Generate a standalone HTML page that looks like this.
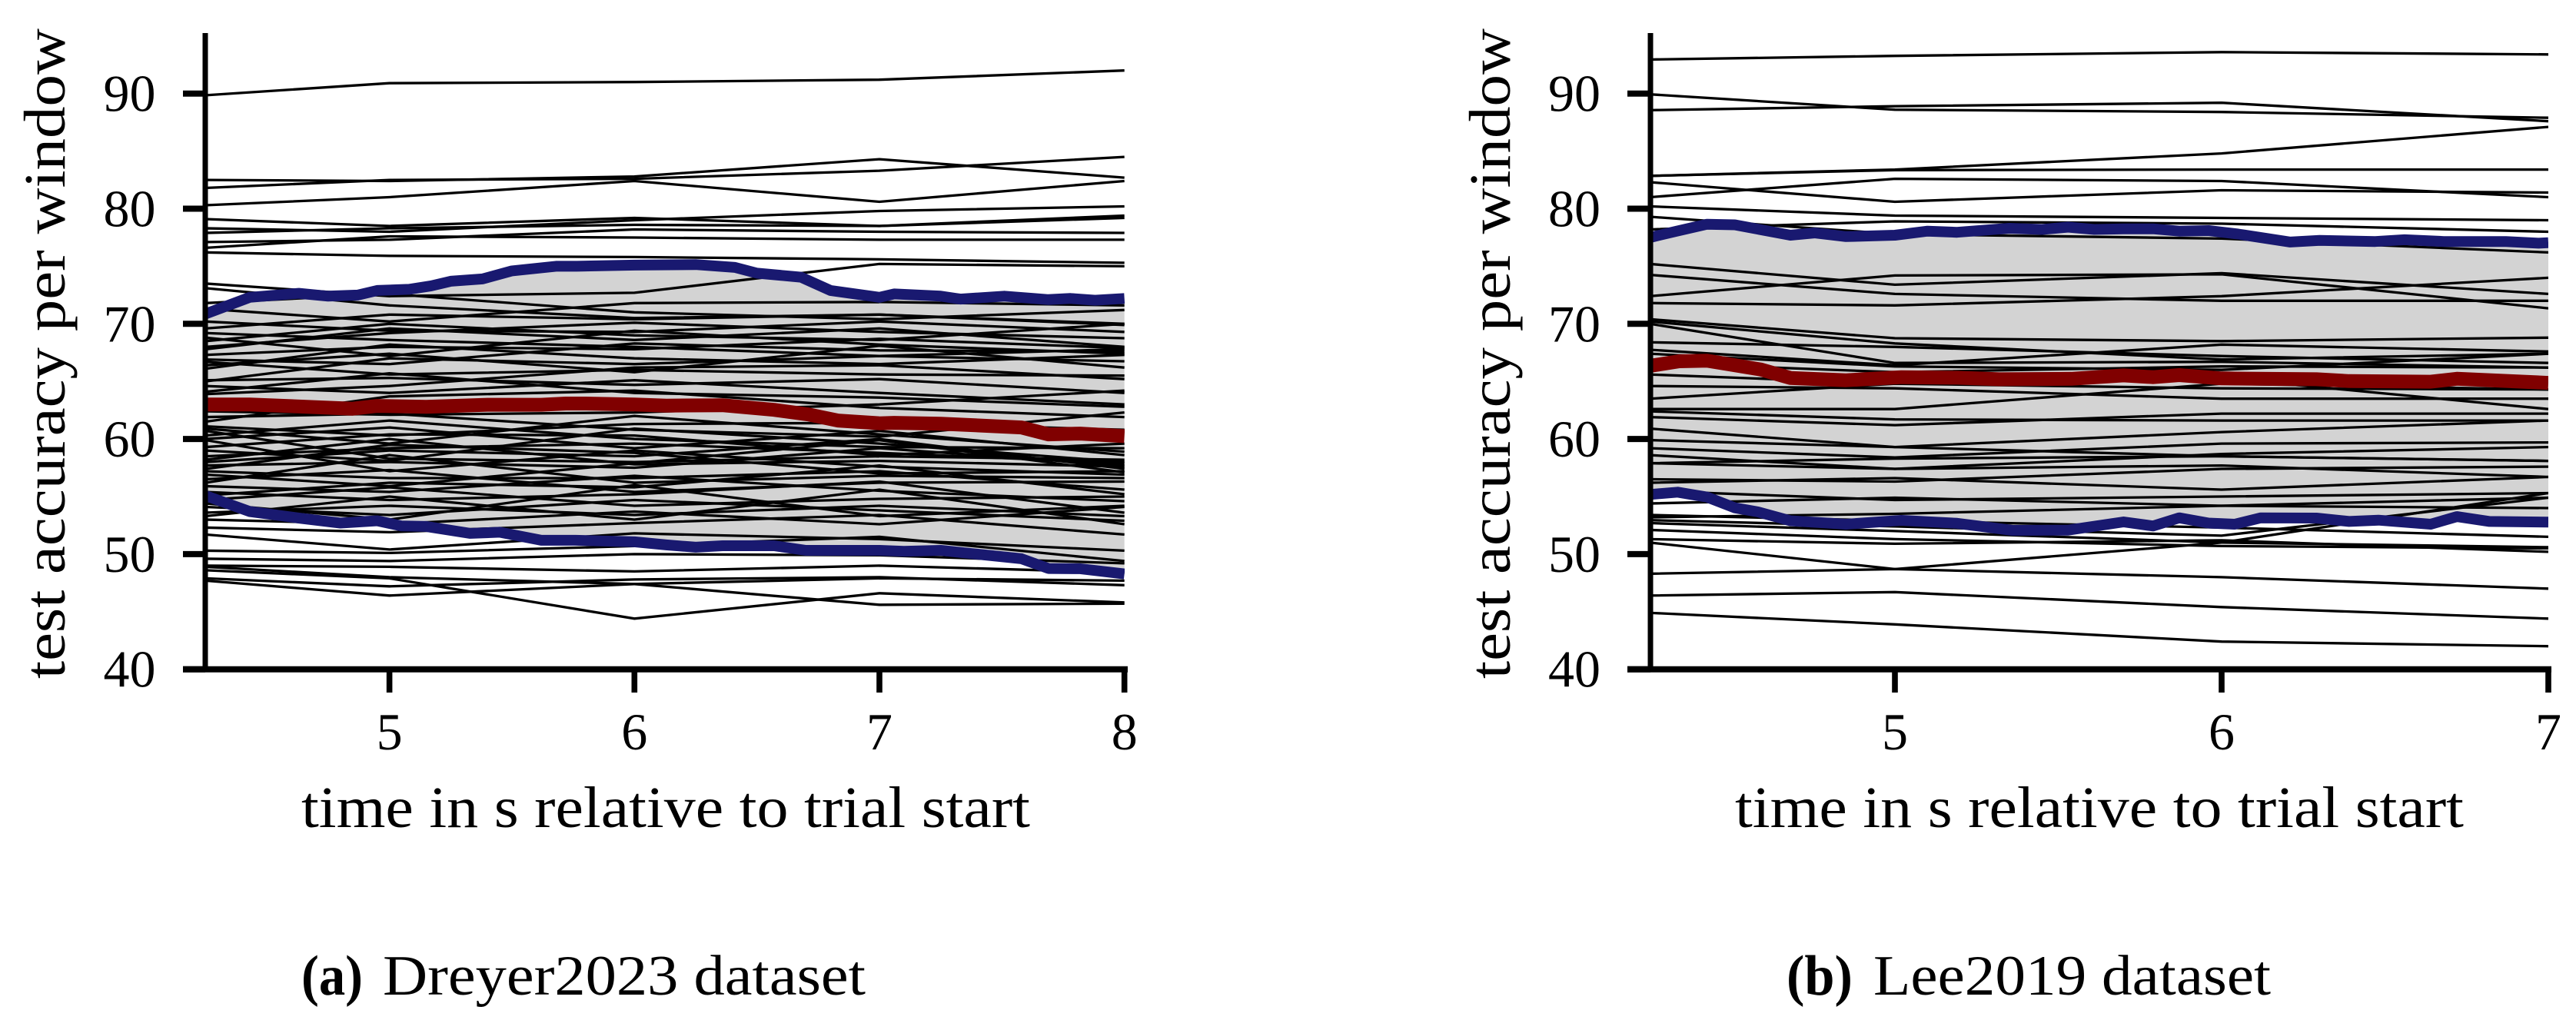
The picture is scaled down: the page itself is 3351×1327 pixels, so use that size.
<!DOCTYPE html>
<html lang="en">
<head>
<meta charset="utf-8">
<title>Test accuracy per window</title>
<style>
html,body{margin:0;padding:0;background:#fff;}
body{width:3351px;height:1327px;overflow:hidden;}
svg{display:block;}
text{font-family:"Liberation Serif",serif;fill:#000;}
</style>
</head>
<body>
<svg id="figure" xmlns="http://www.w3.org/2000/svg" width="3351" height="1327" viewBox="0 0 3351 1327">
  <rect width="3351" height="1327" fill="#fff"/>
  <defs>
    <clipPath id="clip-a"><rect x="270" y="0" width="1193" height="867"/></clipPath>
    <clipPath id="clip-b"><rect x="2150" y="0" width="1165" height="867"/></clipPath>
  </defs>
  <g id="chart-a"></g>
  <g id="chart-b"></g>

  <text transform="translate(84,883) rotate(-90)" font-size="76" textLength="846" lengthAdjust="spacingAndGlyphs">test accuracy per window</text>
  <text x="392" y="1076" font-size="76" textLength="948" lengthAdjust="spacingAndGlyphs">time in s relative to trial start</text>
  <text x="392" y="1294" font-size="74" font-weight="bold" textLength="80" lengthAdjust="spacingAndGlyphs">(a)</text>
  <text x="498" y="1294" font-size="74" textLength="628" lengthAdjust="spacingAndGlyphs">Dreyer2023 dataset</text>

  <text transform="translate(1964,883) rotate(-90)" font-size="76" textLength="846" lengthAdjust="spacingAndGlyphs">test accuracy per window</text>
  <text x="2257" y="1076" font-size="76" textLength="948" lengthAdjust="spacingAndGlyphs">time in s relative to trial start</text>
  <text x="2324" y="1294" font-size="74" font-weight="bold" textLength="86" lengthAdjust="spacingAndGlyphs">(b)</text>
  <text x="2437" y="1294" font-size="74" textLength="517" lengthAdjust="spacingAndGlyphs">Lee2019 dataset</text>
</svg>
<script>
var yTickValues = [40, 50, 60, 70, 80, 90];
var xTickValuesA = [5, 6, 7, 8];
var xTickValuesB = [5, 6, 7];

var subjectTimesA = [4.25, 5, 6, 7, 8];
var subjectsA = [
  [89.85,90.9,91,91.2,92],
  [82.5,82.4,82.8,84.3,82.7],
  [81.8,82.5,82.6,83.3,84.5],
  [80.3,81,82.4,80.6,82.4],
  [79.1,78.5,79.2,78.5,79.4],
  [78.3,78,79,79.8,80.2],
  [77.9,78.3,78.6,78.5,79.2],
  [77.1,77.3,78.2,78,77.9],
  [76.6,77.6,77.5,77.3,77.3],
  [76.2,75.9,75.8,75.6,75.3],
  [73.5,72.4,72.7,75.2,75],
  [73.1,71.6,70.5,70.8,69.9],
  [71.8,72.6,71,70.4,71.2],
  [71.3,70.2,71.8,71.9,71.6],
  [69.6,70.8,70.4,70.8,70],
  [70.2,69.4,69.3,70.2,69.3],
  [68.5,70,69,68.6,70],
  [68,69.2,70.1,69.3,68.75],
  [67.3,68,67.8,68.7,67.9],
  [66.9,66.5,68.3,67.7,67.6],
  [66.1,68.2,67,66.5,67.3],
  [65,67,66.5,67.2,66.75],
  [66.7,65.6,66,65.6,65.5],
  [65.1,65.3,64.7,65.2,64],
  [64.6,64,65.1,64,63],
  [64.1,65.7,64,63.6,62.8],
  [62.4,62.1,62.3,63,64.2],
  [61.9,62.2,60.8,60.2,62.3],
  [61.1,60.3,61.3,61.4,60.8],
  [60.3,61.6,60,59.3,59.2],
  [59.3,60.4,60.3,58.6,59.6],
  [58.5,59.2,59.6,58.8,57.9],
  [58,59,58.5,60,57.4],
  [60.7,58.3,58,58.5,58.2],
  [59.9,57.2,59,57.6,56.9],
  [57.7,58,57.5,59.2,57.7],
  [57.2,56.6,56.6,57.2,55.6],
  [56.5,57.3,55.4,56.2,56.3],
  [55.9,55.4,56.8,55.5,54.6],
  [55.4,54.7,55.2,56.3,53.6],
  [54.7,55.8,54.2,54.8,55],
  [54.1,53.4,54.7,53.8,52.9],
  [53.6,54.2,53.4,54.2,53.3],
  [53,52.6,53.7,52.6,54.1],
  [52.3,51.9,52.7,53.4,51.7],
  [51.7,50.4,51.8,51.3,50.3],
  [50.3,50.1,50.7,51.5,49.4],
  [49.6,49.4,50,49.9,49.2],
  [49,48.9,48.5,49,48.4],
  [47.9,47.2,47.8,48,47.3],
  [47.7,46.4,47.4,47.9,47.7],
  [48.6,47.9,44.4,46.6,45.8],
  [48.9,48,47.4,45.6,45.7],
  [69.2,68.6,68,67.2,67.8],
  [68.8,67.2,69.4,68.2,67.4],
  [67.8,69.6,68.6,69.6,68],
  [66.4,67.4,65.8,68.1,66.2],
  [63.9,64.6,66.2,66.4,65.2],
  [61.5,63.7,64.2,62.7,61.9],
  [60.9,59.6,62,60.4,58.9],
  [60,61,59.2,60.7,58.6],
  [59,58.1,60.9,59.6,58],
  [58.2,60,57.8,58.1,57.6],
  [57.4,59.5,58.8,57,57.2],
  [56.9,55.9,57.9,59.9,57.1],
  [56.2,58.6,56.2,56.8,56.6],
  [55.1,56.2,55.8,57.7,55.2],
  [54.4,53,56,53.3,54.2],
  [53.3,55,53,55.6,52.6]
];

var upperTimesA = [4.25,4.43,4.63,4.75,4.87,4.95,5.08,5.17,5.25,5.38,5.5,5.68,5.765,6,6.25,6.41,6.5,6.68,6.8,7,7.06,7.25,7.33,7.51,7.69,7.78,7.88,8];
var upperValuesA = [70.87,72.3,72.65,72.4,72.5,72.9,73,73.3,73.7,73.9,74.6,75,75,75.1,75.15,74.9,74.4,74.05,72.9,72.3,72.6,72.4,72.15,72.4,72.1,72.2,72.05,72.2];
var lowerTimesA = [4.25,4.43,4.63,4.8,4.95,5.05,5.15,5.33,5.45,5.62,5.76,6,6.13,6.25,6.36,6.57,6.7,7,7.1,7.25,7.58,7.69,7.82,8];
var lowerValuesA = [55.07,53.7,53.13,52.7,52.9,52.44,52.4,51.8,51.9,51.2,51.2,51.07,50.8,50.6,50.73,50.73,50.33,50.33,50.25,50.33,49.6,48.75,48.73,48.28];
var meanTimesA = [4.25,4.43,4.85,4.95,5.15,5.4,5.62,5.72,5.8,6,6.13,6.36,6.57,6.71,6.83,7,7.06,7.25,7.58,7.69,7.82,8];
var meanValuesA = [62.99,63,62.63,62.87,62.8,62.97,62.97,63.08,63.08,63,62.9,62.93,62.53,62.13,61.6,61.36,61.4,61.33,61,60.4,60.47,60.25];

var subjectTimesB = [4.25, 5, 6, 7];
var subjectsB = [
  [92.96,93.27,93.6,93.4],
  [89.93,88.6,88.4,87.9],
  [88.56,88.9,89.2,87.6],
  [82.85,83.4,84.8,87.1],
  [82.85,83.35,83.4,83.4],
  [82.3,80.6,81.6,81.4],
  [81,82.6,82.4,81],
  [80.2,79.4,79.2,79],
  [79.3,77.8,77.4,76.2],
  [78.2,78.9,78.7,78],
  [75.2,73.4,74.4,72.6],
  [74.25,72.6,72,72],
  [72.4,74.2,74.3,71.35],
  [71.8,71.6,72.4,74],
  [70.4,68.75,68.5,68.8],
  [70.2,68.3,66.9,67.4],
  [70,66.6,66.7,66.2],
  [68.4,68,67.2,66.6],
  [67.75,66.4,68.2,67.6],
  [67.4,66.3,66,67.4],
  [66.6,65.8,66.3,66.2],
  [65.6,64.8,64.4,64.3],
  [64.6,64.4,63.5,63.5],
  [63.5,64.8,65.3,62.6],
  [62.6,62.6,64.8,64.3],
  [62.4,61.7,61.6,61.6],
  [61.9,61.2,62.2,62.2],
  [60.9,59.3,60.6,61.6],
  [59.9,59.3,58.5,58.1],
  [59.2,58.4,59.6,59.7],
  [58.6,57.4,58.7,59.3],
  [57.9,58.3,58.5,58.1],
  [57.9,57.4,57.7,56.7],
  [56.5,56.3,57.4,57.6],
  [56.2,56.6,55.6,56.7],
  [55.5,54.7,55,55.3],
  [54.4,54.9,54.2,54],
  [53.2,53.5,54.2,54.9],
  [52.95,52.4,51.6,54.9],
  [52.7,52,51,50.6],
  [52.1,51.3,50.7,50.5],
  [51.3,50.9,51.2,50.2],
  [51,48.7,51,55.3],
  [53.4,52.9,52.3,51.5],
  [48.3,48.7,48,47],
  [46.4,46.7,45.4,44.4],
  [44.9,43.9,42.4,42]
];

var upperTimesB = [4.25,4.33,4.425,4.51,4.68,4.755,4.85,5,5.1,5.19,5.35,5.45,5.53,5.61,5.7,5.79,5.87,5.96,6.05,6.21,6.3,6.47,6.56,6.68,6.87,6.97,7];
var upperValuesB = [77.5,78.04,78.65,78.6,77.7,77.9,77.58,77.7,78.05,77.95,78.3,78.2,78.4,78.2,78.25,78.25,78.05,78.1,77.8,77.1,77.25,77.15,77.3,77.15,77.15,77,77.05];
var lowerTimesB = [4.25,4.335,4.425,4.51,4.58,4.68,4.85,5.02,5.19,5.36,5.53,5.7,5.79,5.87,5.96,6.04,6.12,6.29,6.39,6.48,6.64,6.72,6.82,7];
var lowerValuesB = [55.18,55.38,54.95,54.02,53.67,52.9,52.6,52.93,52.68,52.06,52.08,52.8,52.44,53.15,52.7,52.6,53.15,53.13,52.84,52.95,52.6,53.26,52.84,52.78];
var meanTimesB = [4.25,4.34,4.425,4.59,4.68,4.85,5.02,5.19,5.32,5.54,5.7,5.79,5.87,6,6.29,6.39,6.64,6.72,7];
var meanValuesB = [66.35,66.75,66.8,66.03,65.3,65.1,65.37,65.32,65.19,65.23,65.52,65.37,65.55,65.26,65.19,65.03,64.97,65.23,64.87];

var NS = 'http://www.w3.org/2000/svg';

function make(parent, tag, attrs) {
  var el = document.createElementNS(NS, tag);
  for (var k in attrs) { el.setAttribute(k, attrs[k]); }
  parent.appendChild(el);
  return el;
}

function scaleY(v) { return 870.7 - (v - 40) * 14.98; }

function drawChart(rootId, clipId, px5, pxPerSec, spineX, tickLeft, labelRight, xEnd, subjectTimes, subjects, upT, upV, loT, loV, mT, mV, xTicks) {
  var root = document.getElementById(rootId);
  function scaleX(t) { return px5 + (t - 5) * pxPerSec; }
  function pts(ts, vs) {
    return ts.map(function (t, i) { return scaleX(t).toFixed(1) + ',' + scaleY(vs[i]).toFixed(1); });
  }

  var plot = make(root, 'g', { 'clip-path': 'url(#' + clipId + ')' });
  
  

  var band = make(plot, 'polygon', {
    points: pts(upT, upV).concat(pts(loT, loV).reverse()).join(' '),
    fill: '#d3d3d3'
  });
  
  

  subjects.forEach(function (vals) {
    var line = make(plot, 'polyline', {
      points: pts(subjectTimes, vals).join(' '),
      fill: 'none', stroke: '#000', 'stroke-width': 3.3
    });
    
    
  });

  var upper = make(plot, 'polyline', {
    points: pts(upT, upV).join(' '), fill: 'none', stroke: '#191970',
    'stroke-width': 14, 'stroke-linejoin': 'round'
  });
  
  

  var lower = make(plot, 'polyline', {
    points: pts(loT, loV).join(' '), fill: 'none', stroke: '#191970',
    'stroke-width': 14, 'stroke-linejoin': 'round'
  });
  
  

  var mean = make(plot, 'polyline', {
    points: pts(mT, mV).join(' '), fill: 'none', stroke: '#800000',
    'stroke-width': 18, 'stroke-linejoin': 'round'
  });
  
  

  var ySpine = make(root, 'line', { x1: spineX, x2: spineX, y1: 43, y2: 874, stroke: '#000', 'stroke-width': 7 });
  
  

  var xSpine = make(root, 'line', { x1: tickLeft, x2: xEnd, y1: scaleY(40), y2: scaleY(40), stroke: '#000', 'stroke-width': 8 });
  
  

  yTickValues.forEach(function (v) {
    var y = scaleY(v);
    var tick = make(root, 'line', { x1: tickLeft, x2: spineX, y1: y, y2: y, stroke: '#000', 'stroke-width': 8 });
    
    
    var label = make(root, 'text', { x: labelRight, y: y + 23, 'font-size': 68, 'text-anchor': 'end' });
    
    
    label.textContent = v;
  });

  xTicks.forEach(function (t) {
    var x = scaleX(t);
    var tick = make(root, 'line', { x1: x, x2: x, y1: 870, y2: 901, stroke: '#000', 'stroke-width': 7.6 });
    
    
    var label = make(root, 'text', { x: x, y: 975, 'font-size': 68, 'text-anchor': 'middle' });
    
    
    label.textContent = t;
  });
}

drawChart('chart-a', 'clip-a', 506.6, 318.7, 267, 238, 202.5, 1467,
  subjectTimesA, subjectsA, upperTimesA, upperValuesA, lowerTimesA, lowerValuesA, meanTimesA, meanValuesA, xTickValuesA);
drawChart('chart-b', 'clip-b', 2465, 425, 2147, 2117, 2082, 3319,
  subjectTimesB, subjectsB, upperTimesB, upperValuesB, lowerTimesB, lowerValuesB, meanTimesB, meanValuesB, xTickValuesB);
</script>
</body>
</html>
